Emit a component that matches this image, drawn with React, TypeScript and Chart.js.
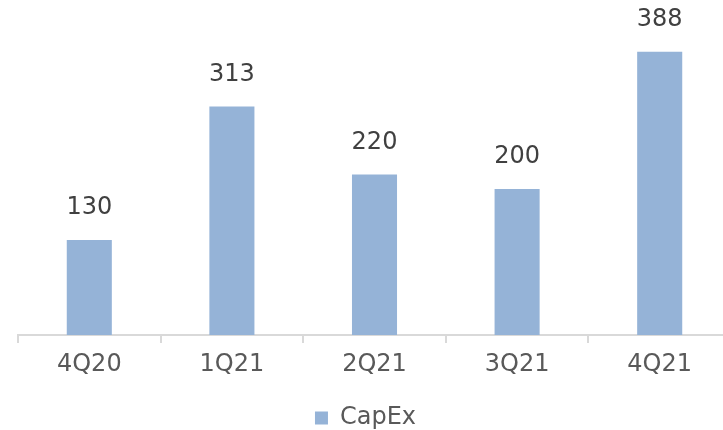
import React, { useEffect, useRef } from "react";
import { Chart, registerables } from "chart.js";

Chart.register(...registerables);

const categories = ["4Q20", "1Q21", "2Q21", "3Q21", "4Q21"];
const capex = [130, 313, 220, 200, 388];
const seriesName = "CapEx";

const FONT = "'DejaVu Sans', 'Noto Sans', sans-serif";

const dataLabels = {
  id: "dataLabels",
  afterDatasetsDraw(chart: any) {
    const ctx = chart.ctx;
    const meta = chart.getDatasetMeta(0);
    ctx.save();
    ctx.font = `24px ${FONT}`;
    ctx.fillStyle = "#404040";
    ctx.textAlign = "center";
    ctx.textBaseline = "middle";
    meta.data.forEach((bar: any, i: number) => {
      const v = chart.data.datasets[0].data[i];
      ctx.fillText(String(v), bar.x, bar.y - 32);
    });
    ctx.restore();
  },
};

export default function App() {
  const ref = useRef<HTMLCanvasElement>(null);
  useEffect(() => {
    if (!ref.current) return;
    const chart = new Chart(ref.current, {
      type: "bar",
      data: {
        labels: categories,
        datasets: [
          {
            label: seriesName,
            data: capex,
            backgroundColor: "#95B3D7",
            borderWidth: 0,
            categoryPercentage: 1,
            barPercentage: 0.316,
          },
        ],
      },
      options: {
        responsive: false,
        animation: false,
        layout: { padding: { left: 0, right: 9, top: 43, bottom: -10 } },
        plugins: {
          tooltip: { enabled: false },
          legend: {
            position: "bottom",
            labels: {
              boxWidth: 13,
              boxHeight: 13,
              padding: 1,
              color: "#595959",
              font: { family: FONT, size: 24 },
            },
          },
        },
        scales: {
          x: {
            grid: {
              offset: true,
              drawOnChartArea: false,
              drawTicks: true,
              tickLength: 8,
              color: "#D9D9D9",
              lineWidth: 2,
            },
            border: { display: true, color: "#D9D9D9", width: 2 },
            ticks: {
              color: "#595959",
              padding: 7,
              font: { family: FONT, size: 24 },
              maxRotation: 0,
            },
            afterFit: (s: any) => {
              s.height = 70;
            },
          },
          y: {
            min: 0,
            max: 400,
            grid: { display: false },
            border: { display: false },
            ticks: { display: false },
            afterFit: (s: any) => {
              s.width = 18;
            },
          },
        },
      },
      plugins: [dataLabels],
    });
    return () => chart.destroy();
  }, []);
  return (
    <div
      style={{
        position: "fixed",
        left: 0,
        top: 0,
        width: 723,
        height: 430,
        overflow: "hidden",
        background: "#fff",
      }}
    >
      <canvas ref={ref} width={740} height={430} style={{ display: "block" }} />
    </div>
  );
}
